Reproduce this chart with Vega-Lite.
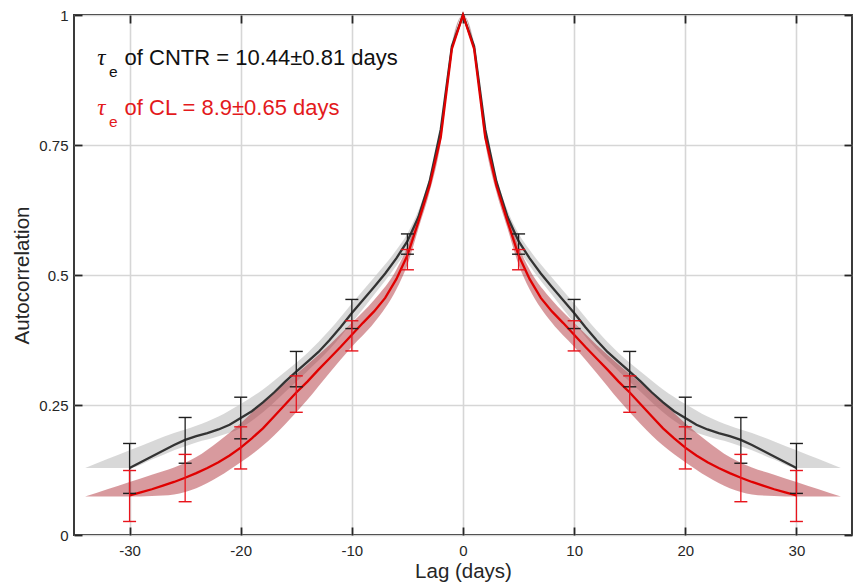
{
  "$schema": "https://vega.github.io/schema/vega-lite/v6.json",
  "width": 778,
  "height": 520,
  "autosize": {"type": "none"},
  "padding": {"left": 74, "top": 15, "right": 2, "bottom": 52},
  "background": "white",
  "config": {
    "font": "Liberation Sans",
    "view": {"stroke": "#262626", "strokeWidth": 1.8},
    "axis": {
      "labelFont": "Liberation Sans",
      "titleFont": "Liberation Sans",
      "labelColor": "#262626",
      "titleColor": "#262626",
      "titleFontWeight": "normal",
      "labelFontSize": 15,
      "titleFontSize": 20.5,
      "tickColor": "#262626",
      "tickWidth": 1.8,
      "domain": false
    }
  },
  "datasets": {
    "lines": [
      {"lag": -30, "cntr": 0.129, "cl": 0.076},
      {"lag": -29, "cntr": 0.140, "cl": 0.082},
      {"lag": -28, "cntr": 0.151, "cl": 0.088},
      {"lag": -27, "cntr": 0.162, "cl": 0.095},
      {"lag": -26, "cntr": 0.173, "cl": 0.102},
      {"lag": -25, "cntr": 0.183, "cl": 0.110},
      {"lag": -24, "cntr": 0.190, "cl": 0.119},
      {"lag": -23, "cntr": 0.196, "cl": 0.129},
      {"lag": -22, "cntr": 0.203, "cl": 0.140},
      {"lag": -21, "cntr": 0.212, "cl": 0.153},
      {"lag": -20, "cntr": 0.225, "cl": 0.168},
      {"lag": -19, "cntr": 0.238, "cl": 0.186},
      {"lag": -18, "cntr": 0.255, "cl": 0.205},
      {"lag": -17, "cntr": 0.274, "cl": 0.228},
      {"lag": -16, "cntr": 0.295, "cl": 0.251},
      {"lag": -15, "cntr": 0.314, "cl": 0.274},
      {"lag": -14, "cntr": 0.333, "cl": 0.295},
      {"lag": -13, "cntr": 0.352, "cl": 0.318},
      {"lag": -12, "cntr": 0.375, "cl": 0.340},
      {"lag": -11, "cntr": 0.400, "cl": 0.362},
      {"lag": -10, "cntr": 0.427, "cl": 0.385},
      {"lag": -9, "cntr": 0.452, "cl": 0.408},
      {"lag": -8, "cntr": 0.477, "cl": 0.430},
      {"lag": -7, "cntr": 0.503, "cl": 0.456},
      {"lag": -6, "cntr": 0.532, "cl": 0.492},
      {"lag": -5, "cntr": 0.565, "cl": 0.538},
      {"lag": -4, "cntr": 0.612, "cl": 0.603},
      {"lag": -3, "cntr": 0.680, "cl": 0.672},
      {"lag": -2, "cntr": 0.780, "cl": 0.765},
      {"lag": -1, "cntr": 0.940, "cl": 0.935},
      {"lag": 0, "cntr": 1.0, "cl": 1.0},
      {"lag": 1, "cntr": 0.940, "cl": 0.935},
      {"lag": 2, "cntr": 0.780, "cl": 0.765},
      {"lag": 3, "cntr": 0.680, "cl": 0.672},
      {"lag": 4, "cntr": 0.612, "cl": 0.603},
      {"lag": 5, "cntr": 0.565, "cl": 0.538},
      {"lag": 6, "cntr": 0.532, "cl": 0.492},
      {"lag": 7, "cntr": 0.503, "cl": 0.456},
      {"lag": 8, "cntr": 0.477, "cl": 0.430},
      {"lag": 9, "cntr": 0.452, "cl": 0.408},
      {"lag": 10, "cntr": 0.427, "cl": 0.385},
      {"lag": 11, "cntr": 0.400, "cl": 0.362},
      {"lag": 12, "cntr": 0.375, "cl": 0.340},
      {"lag": 13, "cntr": 0.352, "cl": 0.318},
      {"lag": 14, "cntr": 0.333, "cl": 0.295},
      {"lag": 15, "cntr": 0.314, "cl": 0.274},
      {"lag": 16, "cntr": 0.295, "cl": 0.251},
      {"lag": 17, "cntr": 0.274, "cl": 0.228},
      {"lag": 18, "cntr": 0.255, "cl": 0.205},
      {"lag": 19, "cntr": 0.238, "cl": 0.186},
      {"lag": 20, "cntr": 0.225, "cl": 0.168},
      {"lag": 21, "cntr": 0.212, "cl": 0.153},
      {"lag": 22, "cntr": 0.203, "cl": 0.140},
      {"lag": 23, "cntr": 0.196, "cl": 0.129},
      {"lag": 24, "cntr": 0.190, "cl": 0.119},
      {"lag": 25, "cntr": 0.183, "cl": 0.110},
      {"lag": 26, "cntr": 0.173, "cl": 0.102},
      {"lag": 27, "cntr": 0.162, "cl": 0.095},
      {"lag": 28, "cntr": 0.151, "cl": 0.088},
      {"lag": 29, "cntr": 0.140, "cl": 0.082},
      {"lag": 30, "cntr": 0.129, "cl": 0.076}
    ],
    "bands": [
      {"lag": -34, "cntr_lo": 0.129, "cntr_hi": 0.129, "cl_lo": 0.074, "cl_hi": 0.074},
      {"lag": -32, "cntr_lo": 0.129, "cntr_hi": 0.146, "cl_lo": 0.074, "cl_hi": 0.088},
      {"lag": -30, "cntr_lo": 0.129, "cntr_hi": 0.163, "cl_lo": 0.074, "cl_hi": 0.102},
      {"lag": -28, "cntr_lo": 0.145, "cntr_hi": 0.180, "cl_lo": 0.075, "cl_hi": 0.116},
      {"lag": -26, "cntr_lo": 0.163, "cntr_hi": 0.196, "cl_lo": 0.078, "cl_hi": 0.130},
      {"lag": -24, "cntr_lo": 0.178, "cntr_hi": 0.210, "cl_lo": 0.090, "cl_hi": 0.150},
      {"lag": -22, "cntr_lo": 0.190, "cntr_hi": 0.228, "cl_lo": 0.112, "cl_hi": 0.180},
      {"lag": -20, "cntr_lo": 0.206, "cntr_hi": 0.252, "cl_lo": 0.140, "cl_hi": 0.215},
      {"lag": -18, "cntr_lo": 0.236, "cntr_hi": 0.280, "cl_lo": 0.172, "cl_hi": 0.255},
      {"lag": -16, "cntr_lo": 0.275, "cntr_hi": 0.314, "cl_lo": 0.213, "cl_hi": 0.292},
      {"lag": -14, "cntr_lo": 0.315, "cntr_hi": 0.350, "cl_lo": 0.260, "cl_hi": 0.328},
      {"lag": -12, "cntr_lo": 0.357, "cntr_hi": 0.394, "cl_lo": 0.312, "cl_hi": 0.366},
      {"lag": -10, "cntr_lo": 0.408, "cntr_hi": 0.445, "cl_lo": 0.362, "cl_hi": 0.408},
      {"lag": -8, "cntr_lo": 0.462, "cntr_hi": 0.495, "cl_lo": 0.408, "cl_hi": 0.452},
      {"lag": -6, "cntr_lo": 0.518, "cntr_hi": 0.548, "cl_lo": 0.472, "cl_hi": 0.510},
      {"lag": -5, "cntr_lo": 0.550, "cntr_hi": 0.580, "cl_lo": 0.520, "cl_hi": 0.555},
      {"lag": -4, "cntr_lo": 0.600, "cntr_hi": 0.625, "cl_lo": 0.590, "cl_hi": 0.618},
      {"lag": -3, "cntr_lo": 0.670, "cntr_hi": 0.690, "cl_lo": 0.660, "cl_hi": 0.685},
      {"lag": -2, "cntr_lo": 0.770, "cntr_hi": 0.790, "cl_lo": 0.755, "cl_hi": 0.775},
      {"lag": -1, "cntr_lo": 0.933, "cntr_hi": 0.947, "cl_lo": 0.928, "cl_hi": 0.940},
      {"lag": 0, "cntr_lo": 1.0, "cntr_hi": 1.0, "cl_lo": 1.0, "cl_hi": 1.0},
      {"lag": 1, "cntr_lo": 0.933, "cntr_hi": 0.947, "cl_lo": 0.928, "cl_hi": 0.940},
      {"lag": 2, "cntr_lo": 0.770, "cntr_hi": 0.790, "cl_lo": 0.755, "cl_hi": 0.775},
      {"lag": 3, "cntr_lo": 0.670, "cntr_hi": 0.690, "cl_lo": 0.660, "cl_hi": 0.685},
      {"lag": 4, "cntr_lo": 0.600, "cntr_hi": 0.625, "cl_lo": 0.590, "cl_hi": 0.618},
      {"lag": 5, "cntr_lo": 0.550, "cntr_hi": 0.580, "cl_lo": 0.520, "cl_hi": 0.555},
      {"lag": 6, "cntr_lo": 0.518, "cntr_hi": 0.548, "cl_lo": 0.472, "cl_hi": 0.510},
      {"lag": 8, "cntr_lo": 0.462, "cntr_hi": 0.495, "cl_lo": 0.408, "cl_hi": 0.452},
      {"lag": 10, "cntr_lo": 0.408, "cntr_hi": 0.445, "cl_lo": 0.362, "cl_hi": 0.408},
      {"lag": 12, "cntr_lo": 0.357, "cntr_hi": 0.394, "cl_lo": 0.312, "cl_hi": 0.366},
      {"lag": 14, "cntr_lo": 0.315, "cntr_hi": 0.350, "cl_lo": 0.260, "cl_hi": 0.328},
      {"lag": 16, "cntr_lo": 0.275, "cntr_hi": 0.314, "cl_lo": 0.213, "cl_hi": 0.292},
      {"lag": 18, "cntr_lo": 0.236, "cntr_hi": 0.280, "cl_lo": 0.172, "cl_hi": 0.255},
      {"lag": 20, "cntr_lo": 0.206, "cntr_hi": 0.252, "cl_lo": 0.140, "cl_hi": 0.215},
      {"lag": 22, "cntr_lo": 0.190, "cntr_hi": 0.228, "cl_lo": 0.112, "cl_hi": 0.180},
      {"lag": 24, "cntr_lo": 0.178, "cntr_hi": 0.210, "cl_lo": 0.090, "cl_hi": 0.150},
      {"lag": 26, "cntr_lo": 0.163, "cntr_hi": 0.196, "cl_lo": 0.078, "cl_hi": 0.130},
      {"lag": 28, "cntr_lo": 0.145, "cntr_hi": 0.180, "cl_lo": 0.075, "cl_hi": 0.116},
      {"lag": 30, "cntr_lo": 0.129, "cntr_hi": 0.163, "cl_lo": 0.074, "cl_hi": 0.102},
      {"lag": 32, "cntr_lo": 0.129, "cntr_hi": 0.146, "cl_lo": 0.074, "cl_hi": 0.088},
      {"lag": 34, "cntr_lo": 0.129, "cntr_hi": 0.129, "cl_lo": 0.074, "cl_hi": 0.074}
    ],
    "errs": [
      {"lag": -30, "cntr_lo": 0.080, "cntr_hi": 0.176, "cl_lo": 0.026, "cl_hi": 0.124},
      {"lag": -25, "cntr_lo": 0.138, "cntr_hi": 0.226, "cl_lo": 0.064, "cl_hi": 0.155},
      {"lag": -20, "cntr_lo": 0.185, "cntr_hi": 0.265, "cl_lo": 0.127, "cl_hi": 0.208},
      {"lag": -15, "cntr_lo": 0.285, "cntr_hi": 0.353, "cl_lo": 0.236, "cl_hi": 0.306},
      {"lag": -10, "cntr_lo": 0.397, "cntr_hi": 0.453, "cl_lo": 0.354, "cl_hi": 0.412},
      {"lag": -5, "cntr_lo": 0.540, "cntr_hi": 0.579, "cl_lo": 0.510, "cl_hi": 0.549},
      {"lag": 5, "cntr_lo": 0.540, "cntr_hi": 0.579, "cl_lo": 0.510, "cl_hi": 0.549},
      {"lag": 10, "cntr_lo": 0.397, "cntr_hi": 0.453, "cl_lo": 0.354, "cl_hi": 0.412},
      {"lag": 15, "cntr_lo": 0.285, "cntr_hi": 0.353, "cl_lo": 0.236, "cl_hi": 0.306},
      {"lag": 20, "cntr_lo": 0.185, "cntr_hi": 0.265, "cl_lo": 0.127, "cl_hi": 0.208},
      {"lag": 25, "cntr_lo": 0.138, "cntr_hi": 0.226, "cl_lo": 0.064, "cl_hi": 0.155},
      {"lag": 30, "cntr_lo": 0.080, "cntr_hi": 0.176, "cl_lo": 0.026, "cl_hi": 0.124}
    ]
  },
  "layer": [
    {
      "data": {"name": "bands"},
      "mark": {"type": "area", "color": "#c8c8c8", "opacity": 0.7, "interpolate": "monotone"},
      "encoding": {
        "x": {"field": "lag", "type": "quantitative",
              "scale": {"domain": [-35, 35], "nice": false, "zero": false},
              "axis": {"orient": "bottom", "values": [-30, -20, -10, 0, 10, 20, 30],
                       "labelExpr": "'' + datum.value", "title": "Lag (days)",
                       "tickSize": -8, "labelPadding": 16, "titlePadding": 3,
                       "grid": true, "gridColor": "#d6d6d6", "gridWidth": 1.6}},
        "y": {"field": "cntr_hi", "type": "quantitative",
              "scale": {"domain": [0, 1], "nice": false, "zero": false},
              "axis": {"orient": "left", "values": [0, 0.25, 0.5, 0.75, 1],
                       "labelExpr": "'' + datum.value", "title": "Autocorrelation",
                       "tickSize": -8, "labelPadding": 14, "titlePadding": 6,
                       "grid": true, "gridColor": "#d6d6d6", "gridWidth": 1.6}},
        "y2": {"field": "cntr_lo"}
      }
    },
    {
      "data": {"name": "bands"},
      "mark": {"type": "area", "color": "#a82028", "opacity": 0.45, "interpolate": "monotone"},
      "encoding": {
        "x": {"field": "lag", "type": "quantitative", "scale": {"domain": [-35, 35], "nice": false, "zero": false}, "axis": null},
        "y": {"field": "cl_hi", "type": "quantitative", "scale": {"domain": [0, 1], "nice": false, "zero": false}, "axis": null},
        "y2": {"field": "cl_lo"}
      }
    },
    {
      "data": {"name": "lines"},
      "mark": {"type": "line", "color": "#333333", "strokeWidth": 2.3},
      "encoding": {
        "x": {"field": "lag", "type": "quantitative",
              "scale": {"domain": [-35, 35], "nice": false, "zero": false},
              "axis": {"orient": "top", "values": [-30, -20, -10, 0, 10, 20, 30],
                       "labels": false, "title": null, "tickSize": -8, "grid": false}},
        "y": {"field": "cntr", "type": "quantitative",
              "scale": {"domain": [0, 1], "nice": false, "zero": false},
              "axis": {"orient": "right", "values": [0, 0.25, 0.5, 0.75, 1],
                       "labels": false, "title": null, "tickSize": -8, "grid": false}}
      }
    },
    {
      "data": {"name": "lines"},
      "mark": {"type": "line", "color": "#e00000", "strokeWidth": 2.3},
      "encoding": {
        "x": {"field": "lag", "type": "quantitative", "scale": {"domain": [-35, 35], "nice": false, "zero": false}, "axis": null},
        "y": {"field": "cl", "type": "quantitative", "scale": {"domain": [0, 1], "nice": false, "zero": false}, "axis": null}
      }
    },
    {
      "data": {"name": "errs"},
      "mark": {"type": "rule", "color": "#1e1e1e", "strokeWidth": 1.3},
      "encoding": {
        "x": {"field": "lag", "type": "quantitative", "scale": {"domain": [-35, 35], "nice": false, "zero": false}, "axis": null},
        "y": {"field": "cntr_lo", "type": "quantitative", "scale": {"domain": [0, 1], "nice": false, "zero": false}, "axis": null},
        "y2": {"field": "cntr_hi"}
      }
    },
    {
      "data": {"name": "errs"},
      "mark": {"type": "tick", "orient": "horizontal", "color": "#1e1e1e", "size": 13, "thickness": 1.4, "opacity": 1},
      "encoding": {
        "x": {"field": "lag", "type": "quantitative", "scale": {"domain": [-35, 35], "nice": false, "zero": false}, "axis": null},
        "y": {"field": "cntr_lo", "type": "quantitative", "scale": {"domain": [0, 1], "nice": false, "zero": false}, "axis": null}
      }
    },
    {
      "data": {"name": "errs"},
      "mark": {"type": "tick", "orient": "horizontal", "color": "#1e1e1e", "size": 13, "thickness": 1.4, "opacity": 1},
      "encoding": {
        "x": {"field": "lag", "type": "quantitative", "scale": {"domain": [-35, 35], "nice": false, "zero": false}, "axis": null},
        "y": {"field": "cntr_hi", "type": "quantitative", "scale": {"domain": [0, 1], "nice": false, "zero": false}, "axis": null}
      }
    },
    {
      "data": {"name": "errs"},
      "mark": {"type": "rule", "color": "#e8141c", "strokeWidth": 1.3},
      "encoding": {
        "x": {"field": "lag", "type": "quantitative", "scale": {"domain": [-35, 35], "nice": false, "zero": false}, "axis": null},
        "y": {"field": "cl_lo", "type": "quantitative", "scale": {"domain": [0, 1], "nice": false, "zero": false}, "axis": null},
        "y2": {"field": "cl_hi"}
      }
    },
    {
      "data": {"name": "errs"},
      "mark": {"type": "tick", "orient": "horizontal", "color": "#e8141c", "size": 13, "thickness": 1.4, "opacity": 1},
      "encoding": {
        "x": {"field": "lag", "type": "quantitative", "scale": {"domain": [-35, 35], "nice": false, "zero": false}, "axis": null},
        "y": {"field": "cl_lo", "type": "quantitative", "scale": {"domain": [0, 1], "nice": false, "zero": false}, "axis": null}
      }
    },
    {
      "data": {"name": "errs"},
      "mark": {"type": "tick", "orient": "horizontal", "color": "#e8141c", "size": 13, "thickness": 1.4, "opacity": 1},
      "encoding": {
        "x": {"field": "lag", "type": "quantitative", "scale": {"domain": [-35, 35], "nice": false, "zero": false}, "axis": null},
        "y": {"field": "cl_hi", "type": "quantitative", "scale": {"domain": [0, 1], "nice": false, "zero": false}, "axis": null}
      }
    },
    {
      "data": {"values": [{"label": "τ"}]},
      "mark": {"type": "text", "font": "Liberation Serif", "fontStyle": "italic", "fontSize": 23, "color": "#111111", "align": "left", "baseline": "alphabetic"},
      "encoding": {
        "x": {"datum": -32.9, "type": "quantitative", "scale": {"domain": [-35, 35], "nice": false, "zero": false}, "axis": null},
        "y": {"datum": 0.904, "type": "quantitative", "scale": {"domain": [0, 1], "nice": false, "zero": false}, "axis": null},
        "text": {"field": "label"}
      }
    },
    {
      "data": {"values": [{"label": "e"}]},
      "mark": {"type": "text", "font": "Liberation Sans", "fontSize": 15.5, "color": "#111111", "align": "left", "baseline": "alphabetic"},
      "encoding": {
        "x": {"datum": -31.85, "type": "quantitative", "scale": {"domain": [-35, 35], "nice": false, "zero": false}, "axis": null},
        "y": {"datum": 0.881, "type": "quantitative", "scale": {"domain": [0, 1], "nice": false, "zero": false}, "axis": null},
        "text": {"field": "label"}
      }
    },
    {
      "data": {"values": [{"label": "of CNTR = 10.44±0.81 days"}]},
      "mark": {"type": "text", "font": "Liberation Sans", "fontSize": 22, "color": "#111111", "align": "left", "baseline": "alphabetic"},
      "encoding": {
        "x": {"datum": -30.45, "type": "quantitative", "scale": {"domain": [-35, 35], "nice": false, "zero": false}, "axis": null},
        "y": {"datum": 0.904, "type": "quantitative", "scale": {"domain": [0, 1], "nice": false, "zero": false}, "axis": null},
        "text": {"field": "label"}
      }
    },
    {
      "data": {"values": [{"label": "τ"}]},
      "mark": {"type": "text", "font": "Liberation Serif", "fontStyle": "italic", "fontSize": 23, "color": "#e31a1c", "align": "left", "baseline": "alphabetic"},
      "encoding": {
        "x": {"datum": -32.9, "type": "quantitative", "scale": {"domain": [-35, 35], "nice": false, "zero": false}, "axis": null},
        "y": {"datum": 0.8077, "type": "quantitative", "scale": {"domain": [0, 1], "nice": false, "zero": false}, "axis": null},
        "text": {"field": "label"}
      }
    },
    {
      "data": {"values": [{"label": "e"}]},
      "mark": {"type": "text", "font": "Liberation Sans", "fontSize": 15.5, "color": "#e31a1c", "align": "left", "baseline": "alphabetic"},
      "encoding": {
        "x": {"datum": -31.85, "type": "quantitative", "scale": {"domain": [-35, 35], "nice": false, "zero": false}, "axis": null},
        "y": {"datum": 0.7846, "type": "quantitative", "scale": {"domain": [0, 1], "nice": false, "zero": false}, "axis": null},
        "text": {"field": "label"}
      }
    },
    {
      "data": {"values": [{"label": "of CL = 8.9±0.65 days"}]},
      "mark": {"type": "text", "font": "Liberation Sans", "fontSize": 22, "color": "#e31a1c", "align": "left", "baseline": "alphabetic"},
      "encoding": {
        "x": {"datum": -30.45, "type": "quantitative", "scale": {"domain": [-35, 35], "nice": false, "zero": false}, "axis": null},
        "y": {"datum": 0.8077, "type": "quantitative", "scale": {"domain": [0, 1], "nice": false, "zero": false}, "axis": null},
        "text": {"field": "label"}
      }
    }
  ],
  "resolve": {"axis": {"x": "independent", "y": "independent"}}
}
